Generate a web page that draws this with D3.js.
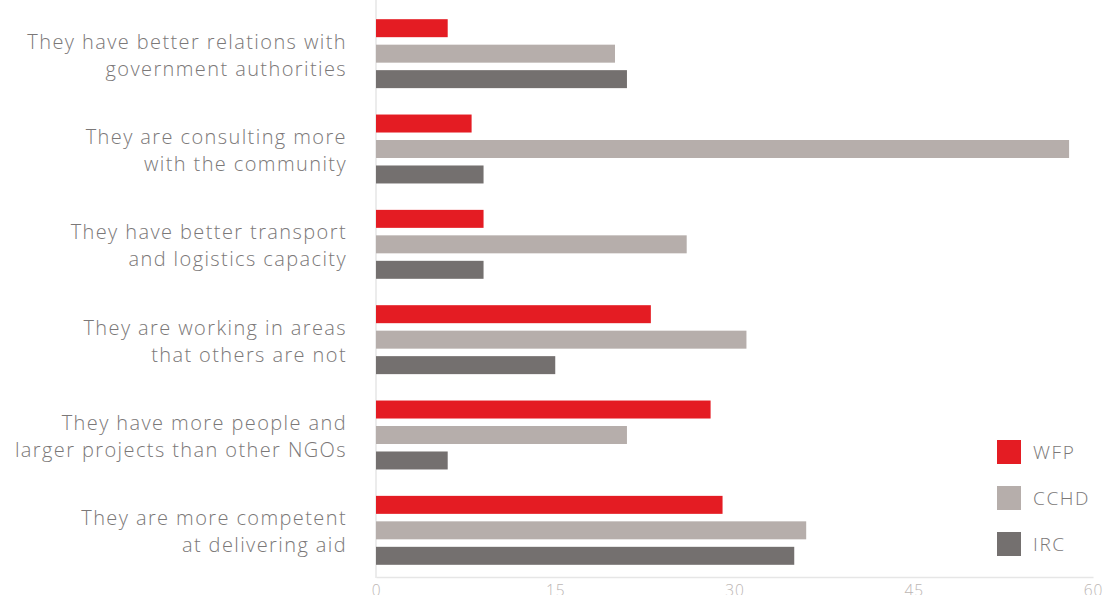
<!DOCTYPE html>
<html>
<head>
<meta charset="utf-8">
<script src="https://cdn.jsdelivr.net/npm/d3@7"></script>
<style>
  html, body { margin: 0; padding: 0; background: #fff; }
  svg { display: block; font-family: "Open Sans", "Noto Sans", sans-serif; }
</style>
</head>
<body>
<svg id="chart" width="1104" height="595"></svg>
<script>
// Reasons given, one row per statement (two lines each)
const categories = [
  ["They have better relations with", "government authorities"],
  ["They are consulting more", "with the community"],
  ["They have better transport", "and logistics capacity"],
  ["They are working in areas", "that others are not"],
  ["They have more people and", "larger projects than other NGOs"],
  ["They are more competent", "at delivering aid"]
];
const seriesNames = ["WFP", "CCHD", "IRC"];
const wfp  = [6, 8, 9, 23, 28, 29];
const cchd = [20, 58, 26, 31, 21, 36];
const irc  = [21, 9, 9, 15, 6, 35];
const tickValues = [0, 15, 30, 45, 60];

const colors = { WFP: "#e41c23", CCHD: "#b6aeab", IRC: "#74706f" };
const valuesBySeries = { WFP: wfp, CCHD: cchd, IRC: irc };

const svg = d3.select("#chart");
const plot = { left: 376, right: 1093, top: 6, bottom: 578 };

const x = d3.scaleLinear().domain([0, 60]).range([plot.left, plot.right]);
const y0 = d3.scaleBand().domain(d3.range(categories.length)).range([plot.top, plot.bottom]).paddingInner(0).paddingOuter(0);
const y1 = d3.scaleBand().domain(seriesNames).range([0, y0.bandwidth()]).paddingInner(0.294).paddingOuter(0.518);

// Axis lines
svg.append("line")
  .attr("x1", plot.left).attr("x2", plot.left)
  .attr("y1", 0).attr("y2", plot.bottom)
  .attr("stroke", "#e6e6e6").attr("stroke-width", 1.5);

const xAxis = d3.axisBottom(x).tickValues(tickValues).tickSize(0).tickPadding(8);
const gx = svg.append("g").attr("transform", `translate(0,${plot.bottom - 1})`).call(xAxis);
gx.select(".domain").attr("stroke", "#e6e6e6").attr("stroke-width", 1.5);
gx.selectAll("text").attr("fill", "#bcb6b4").attr("font-size", 15.5).attr("font-weight", 300)
  .attr("letter-spacing", 0.8)
  .attr("font-family", "'Open Sans', sans-serif");

// Bars
const groups = svg.append("g").selectAll("g")
  .data(categories.map((c, i) => i))
  .join("g")
  .attr("transform", i => `translate(0,${y0(i)})`);

groups.selectAll("rect")
  .data(i => seriesNames.map(s => ({ s, v: valuesBySeries[s][i] })))
  .join("rect")
  .attr("x", x(0))
  .attr("y", d => y1(d.s))
  .attr("width", d => x(d.v) - x(0))
  .attr("height", y1.bandwidth())
  .attr("fill", d => colors[d.s]);

// Category labels
const labels = svg.append("g").selectAll("text")
  .data(categories)
  .join("text")
  .attr("text-anchor", "end")
  .attr("fill", "#7b7878")
  .attr("font-size", 20)
  .attr("font-weight", 300)
  .attr("letter-spacing", 1.4)
  .attr("transform", (d, i) => `translate(347,${y0(i) + y0.bandwidth() / 2})`);
labels.selectAll("tspan")
  .data(d => d)
  .join("tspan")
  .attr("x", 0)
  .attr("y", (d, j) => j === 0 ? -5 : 22)
  .text(d => d);

// Legend
const legend = svg.append("g").selectAll("g")
  .data(seriesNames)
  .join("g")
  .attr("transform", (d, i) => `translate(997,${440 + i * 46})`);
legend.append("rect").attr("width", 24).attr("height", 24).attr("fill", d => colors[d]);
legend.append("text")
  .attr("x", 36).attr("y", 19)
  .attr("fill", "#7b7878")
  .attr("font-size", 19)
  .attr("font-weight", 300)
  .attr("letter-spacing", 1.6)
  .text(d => d);
</script>
</body>
</html>
